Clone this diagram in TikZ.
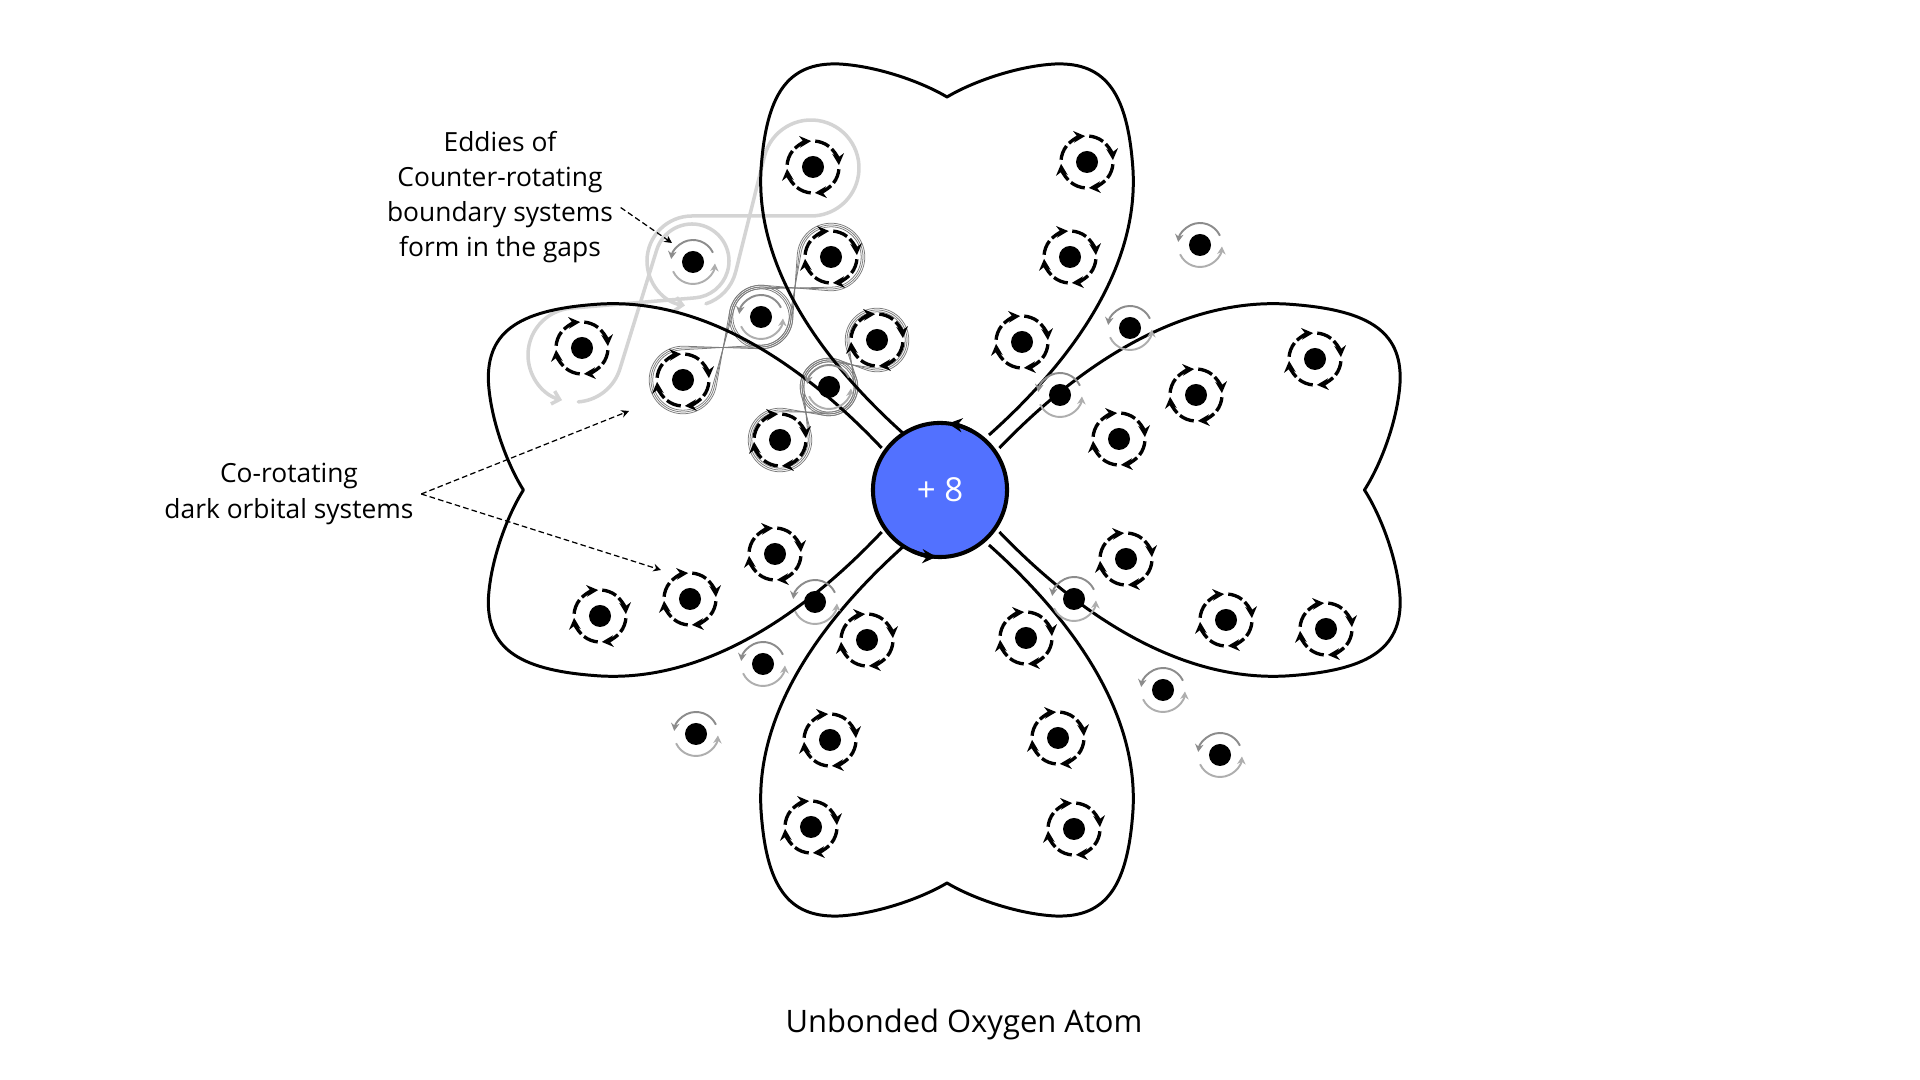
\documentclass[tikz,border=0pt]{standalone}
\usepackage{fontspec}
\setmainfont{Open Sans}
\usetikzlibrary{calc}
\usetikzlibrary{arrows,arrows.meta}
\definecolor{nucblue}{RGB}{82,113,255}
\definecolor{eddypale}{RGB}{212,212,212}
\definecolor{eddydark}{RGB}{125,125,125}
\definecolor{ctrgray}{RGB}{140,140,140}

\newcommand\lobepath{(-42,-55) .. controls (-115,-120) and (-192,-215) .. (-186,-320)
  .. controls (-181,-395) and (-160,-428) .. (-108,-426)
  .. controls (-70,-424) and (-25,-408) .. (0,-393)
  .. controls (25,-408) and (70,-424) .. (108,-426)
  .. controls (160,-428) and (181,-395) .. (186,-320)
  .. controls (192,-215) and (115,-120) .. (42,-55)}

\newcommand\eddyeight[7]{%
  \pgfmathsetmacro\edx{#5-#2}%
  \pgfmathsetmacro\edy{#6-#3}%
  \pgfmathsetmacro\eda{atan2(\edy,\edx)}%
  \pgfmathsetmacro\edp{asin((#4+#7)/veclen(\edx,\edy))}%
  \draw[#1] (#2,#3) ++({\eda+90-\edp}:#4)
    arc[start angle={\eda+90-\edp}, delta angle={180+2*\edp}, radius=#4]
    -- ($(#5,#6)+({\eda+90+\edp}:#7)$)
    arc[start angle={\eda+90+\edp}, delta angle={-180-2*\edp}, radius=#7] -- cycle;}

\newcommand\eddyloop[9]{%
  \pgfmathsetmacro\edx{#5-#2}%
  \pgfmathsetmacro\edy{#6-#3}%
  \pgfmathsetmacro\eda{atan2(\edy,\edx)}%
  \pgfmathsetmacro\edp{asin((#4+#7)/veclen(\edx,\edy))}%
  \draw[#1] (#2,#3) ++(#8:#4)
    arc[start angle=#8, end angle={\eda+90-\edp}, radius=#4]
    -- ($(#5,#6)+({\eda-90-\edp}:#7)$)
    arc[start angle={\eda-90-\edp}, end angle={\eda+90+\edp}, radius=#7]
    -- ($(#2,#3)+({\eda+270+\edp}:#4)$)
    arc[start angle={\eda+270+\edp}, end angle=#9, radius=#4];}

\begin{document}
\begin{tikzpicture}[x=0.01cm, y=-0.01cm,
  lobe/.style={line width=0.85pt, line join=round},
  dot/.style={circle, fill=black, inner sep=0pt, minimum size=0.22cm},
  ring/.style={line width=0.95pt},
  corot/.style={ring, -{Stealth[length=3.3pt, width=3.3pt]}},
  ctr/.style={ctrgray, line width=0.55pt, -{Stealth[length=2.2pt, width=2.4pt]}},
  eddypath/.style={eddypale, line width=1pt, line cap=round, -{Straight Barb[length=2pt, width=3.8pt]}},
  chain/.style={eddydark, line width=0.22pt},
  nucleus/.style={circle, draw, line width=1.15pt, fill=nucblue, minimum size=1.34cm, inner sep=0pt, text=white, font=\fontsize{9.4}{10}\selectfont},
  nucarrow/.style={line width=1.15pt, -{Stealth[length=4pt, width=4pt]}},
  lbl/.style={align=center, inner sep=2pt, font=\fontsize{7.5}{10}\selectfont},
  lblarrow/.style={dashed, dash pattern=on 1.6pt off 0.9pt, line width=0.35pt, -{Stealth[length=2.2pt, width=2.2pt]}},
  title/.style={font=\fontsize{8.8}{10}\selectfont}]
\fill[white] (0,0) rectangle (1920,1080);

\eddyloop{eddypath}{692}{261}{45}{811}{168}{48}{72}{99}
\eddyloop{eddypath}{575}{355}{47}{692}{261}{37}{86}{106}

\foreach \r in {0,1.8,-1.8} {
  \eddyeight{chain}{761}{317}{30+\r}{831}{257}{32+\r}
  \eddyeight{chain}{683}{380}{32+\r}{761}{317}{30+\r}
  \eddyeight{chain}{829}{387}{27+\r}{877}{340}{30+\r}
  \eddyeight{chain}{780}{440}{30+\r}{829}{387}{27+\r}
}

\begin{scope}[shift={(947,490)}]
  \draw[lobe] \lobepath;
\end{scope}
\begin{scope}[shift={(947,490)}, rotate=180]
  \draw[lobe] \lobepath;
\end{scope}
\begin{scope}[shift={(940,490)}, rotate=-90, yscale=1.08]
  \draw[lobe] \lobepath;
\end{scope}
\begin{scope}[shift={(940,490)}, rotate=90, yscale=1.06]
  \draw[lobe] \lobepath;
\end{scope}

\node[nucleus] (nuc) at (940,490) {+ 8};
\draw[nucarrow] (nuc.center) ++(-62:67) arc[start angle=-62, end angle=-83, radius=67];
\draw[nucarrow] (nuc.center) ++(-245:67) arc[start angle=-245, end angle=-267, radius=67];

\foreach \n/\x/\y in {1/813/167, 2/1087/162, 3/831/257, 4/1070/257, 5/877/340, 6/1022/342,
  7/582/348, 8/683/380, 9/780/440, 10/1196/395, 11/1315/359, 12/1119/439,
  13/775/554, 14/690/599, 15/600/616, 16/1126/559, 17/1226/620, 18/1326/629,
  19/867/640, 20/1026/638, 21/830/740, 22/1058/738, 23/811/827, 24/1074/829} {
  \node[dot] (co\n) at (\x,\y) {};
  \foreach \b in {-94,-4,86,176} {
    \draw[corot] (co\n.center) ++({\b-40}:26) arc[start angle={\b-40}, end angle=\b, radius=26];
    \draw[ring] (co\n.center) ++({\b+9}:26) arc[start angle={\b+9}, end angle={\b+42}, radius=26];
  }
}

\foreach \n/\x/\y in {1/693/262, 2/761/317, 3/829/387, 4/1200/245, 5/1130/328, 6/1060/395,
  7/815/602, 8/1074/599, 9/763/664, 10/1163/690, 11/696/734, 12/1220/755} {
  \node[dot] (ctr\n) at (\x,\y) {};
  \draw[ctr] (ctr\n.center) ++(-25:22) arc[start angle=-25, end angle=-172, radius=22];
  \draw[ctr, ctrgray!70] (ctr\n.center) ++(-205:22) arc[start angle=-205, end angle=-356, radius=22];
}

\node[lbl] (eddylbl) at (500,197) {Eddies of\\Counter-rotating\\boundary systems\\form in the gaps};
\coordinate (eddytip) at (672,243);
\draw[lblarrow] (eddylbl.-5) -- (eddytip);

\node[lbl] (corotlbl) at (289,494) {Co-rotating\\dark orbital systems};
\coordinate (corotup) at (629,411);
\coordinate (corotdn) at (661,570);
\draw[lblarrow] (corotlbl.east) -- (corotup);
\draw[lblarrow] (corotlbl.east) -- (corotdn);

\node[title] (ttl) at (964,1024) {Unbonded Oxygen Atom};
\end{tikzpicture}
\end{document}
